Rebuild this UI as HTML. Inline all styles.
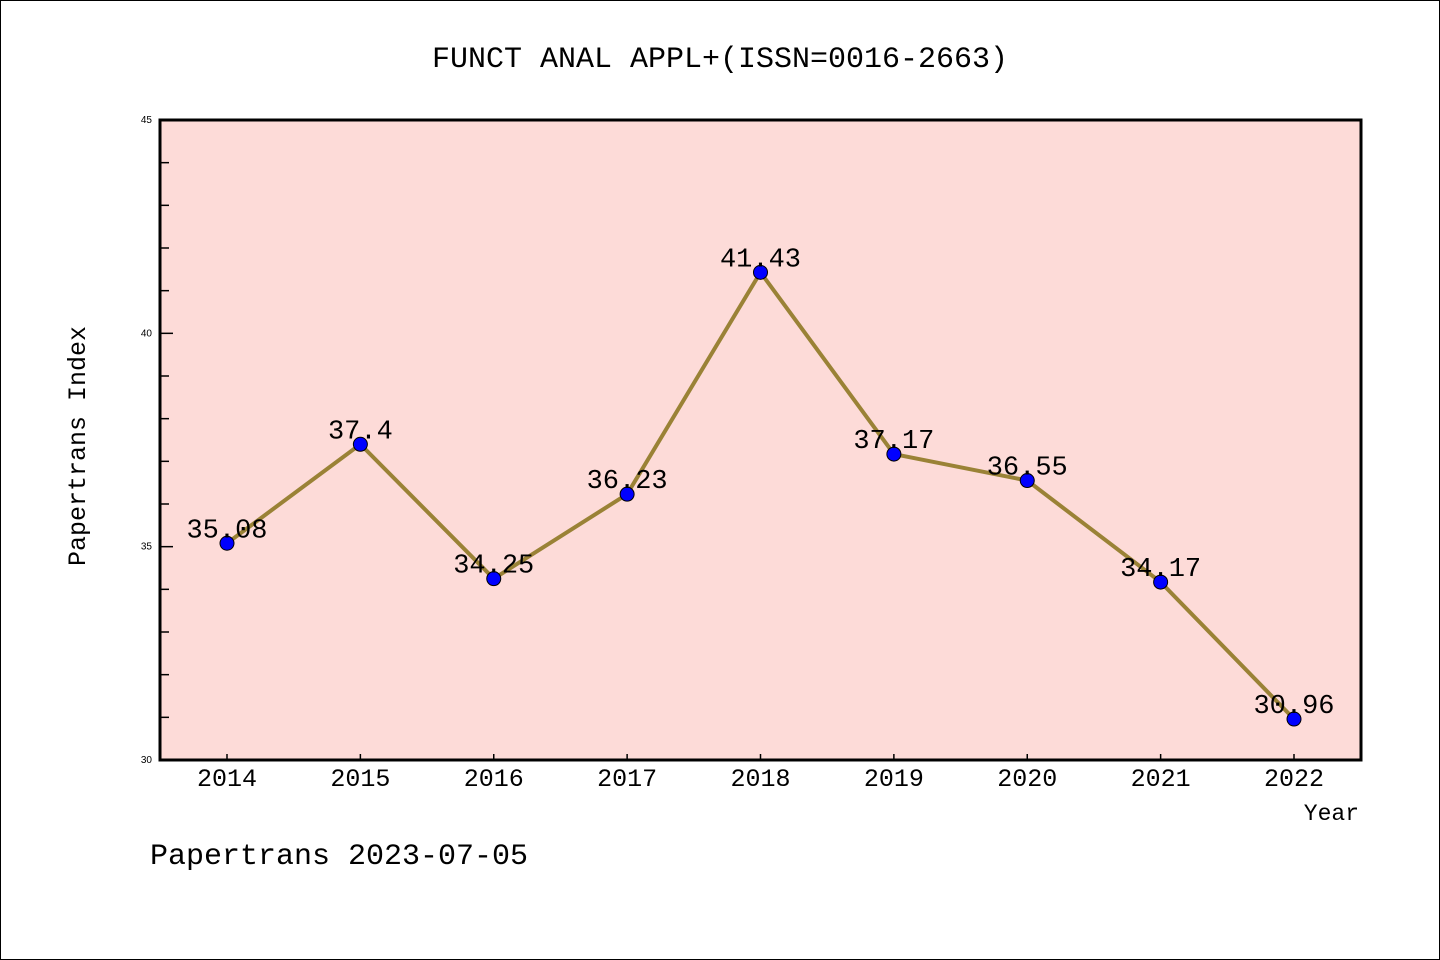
<!DOCTYPE html>
<html><head><meta charset="utf-8"><style>
body{margin:0;background:#fff}
svg{display:block;font-family:"Liberation Mono",monospace}
</style></head><body>
<svg id="chart" width="1440" height="960">
<rect x="0.5" y="0.5" width="1439" height="959" fill="#fff" stroke="#000"/>
<text x="720" y="67" text-anchor="middle" font-size="30">FUNCT ANAL APPL+(ISSN=0016-2663)</text>
<rect x="160" y="120" width="1201" height="640" fill="#fddbd8"/>
<g id="axes"></g>
<g id="series"></g>
<rect x="160" y="120" width="1201" height="640" fill="none" stroke="#000" stroke-width="3"/>
<text x="85" y="446" transform="rotate(-90 85 446)" text-anchor="middle" font-size="25">Papertrans Index</text>
<text x="1359" y="820" text-anchor="end" font-size="23">Year</text>
<text x="150" y="864" font-size="30">Papertrans 2023-07-05</text>
</svg>
<script>
const years=["2014","2015","2016","2017","2018","2019","2020","2021","2022"];
const values=[35.08,37.4,34.25,36.23,41.43,37.17,36.55,34.17,30.96];
const yTickLabels=["30","35","40","45"];
const ns="http://www.w3.org/2000/svg";
const yMin=30,yMax=45;
function ys(v){return 760-(v-yMin)/(yMax-yMin)*640;}
function xs(i){return 227+i*(1294-227)/(years.length-1);}
function mk(t,a,p){const e=document.createElementNS(ns,t);for(const k in a)e.setAttribute(k,a[k]);p.appendChild(e);return e;}
const ax=document.getElementById('axes'),se=document.getElementById('series');
for(let v=yMin;v<=yMax;v++){
  const major=(v%5===0);
  const t=mk('line',{x1:160,x2:major?173:169,y1:ys(v),y2:ys(v),stroke:'#000','stroke-width':1.5},ax);
  
  
}
yTickLabels.forEach(l=>{
  const t=mk('text',{x:152,y:ys(+l)+3,'text-anchor':'end','font-size':10,'font-family':'Liberation Sans, sans-serif'},ax);
  t.textContent=l;
  
  
});
years.forEach((y,i)=>{
  const t=mk('line',{x1:xs(i),x2:xs(i),y1:760,y2:754,stroke:'#000','stroke-width':1.5},ax);
  
  
  const l=mk('text',{x:xs(i),y:786,'text-anchor':'middle','font-size':25},ax);
  l.textContent=y;
  
  
});
const line=mk('polyline',{points:values.map((v,i)=>xs(i)+','+ys(v)).join(' '),fill:'none',stroke:'#9a8236','stroke-width':4},se);


values.forEach((v,i)=>{
  const c=mk('circle',{cx:xs(i),cy:ys(v),r:7,fill:'#0000ff',stroke:'#000','stroke-width':1},se);
  
  
  const t=mk('text',{x:xs(i),y:ys(v)-6,'text-anchor':'middle','font-size':27},se);
  t.textContent=String(v);
  
  
});
</script>
</body></html>
